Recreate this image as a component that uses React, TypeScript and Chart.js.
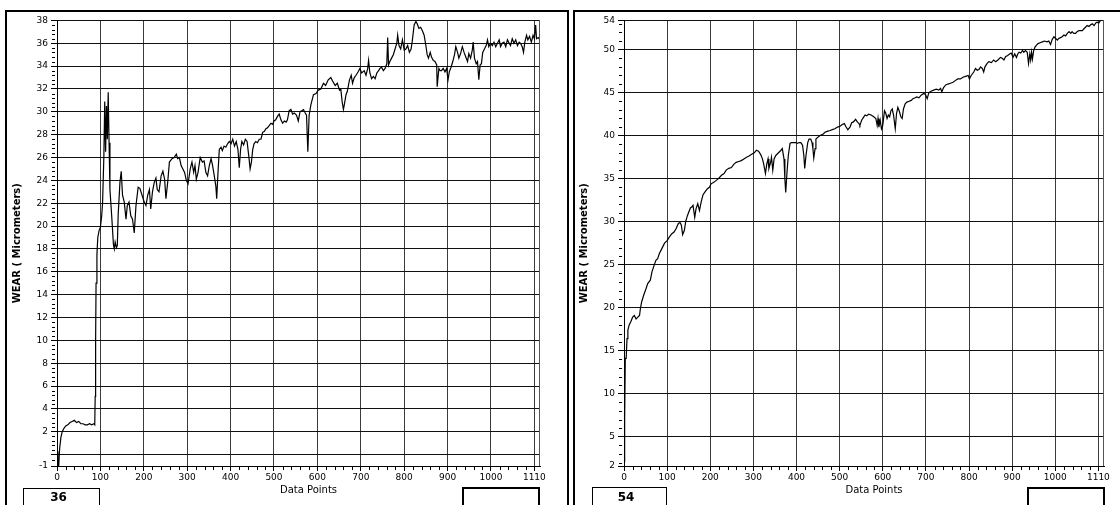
import React, { useEffect, useRef } from 'react';
import { Chart, registerables } from 'chart.js';

Chart.register(...registerables);

const FONT = "'DejaVu Sans', Verdana, sans-serif";

// ---------- Left chart (final value 36) ----------
const leftX = [
  0, 2, 4, 6, 9, 12, 16, 20, 25, 30,
  35, 40, 45, 50, 55, 60, 65, 70, 75, 80,
  85, 87, 88, 89, 90, 92, 94, 97, 100, 103,
  105, 108, 110, 112, 114, 116, 118, 120, 122, 126,
  130, 132, 134, 137, 139, 141, 145, 148, 151, 155,
  159, 162, 166, 170, 174, 178, 182, 187, 191, 196,
  201, 205, 209, 213, 216, 220, 224, 228, 231, 235,
  240, 244, 248, 251, 255, 259, 265, 270, 275, 278,
  282, 286, 290, 294, 298, 302, 307, 311, 315, 318,
  321, 325, 330, 335, 339, 343, 347, 351, 355, 358,
  362, 366, 368, 371, 374, 378, 381, 385, 389, 393,
  397, 401, 405, 409, 413, 417, 420, 423, 426, 430,
  434, 438, 442, 445, 448, 451, 454, 458, 462, 466,
  470, 474, 478, 481, 485, 489, 493, 497, 500, 504,
  508, 512, 516, 520, 524, 528, 531, 535, 539, 543,
  547, 552, 556, 560, 568, 572, 575, 578, 581, 585,
  591, 597, 602, 608, 614, 619, 625, 631, 635, 641,
  646, 651, 654, 657, 660, 662, 666, 669, 674, 678,
  681, 685, 689, 694, 698, 702, 708, 712, 716, 718,
  721, 725, 729, 733, 737, 741, 744, 748, 752, 756,
  760, 762, 764, 767, 771, 775, 779, 783, 785, 788,
  792, 796, 800, 804, 808, 812, 816, 819, 823, 827,
  830, 834, 838, 842, 846, 850, 853, 856, 860, 863,
  867, 871, 875, 876, 880, 883, 886, 890, 894, 898,
  901, 904, 908, 912, 916, 919, 923, 926, 930, 934,
  938, 942, 946, 949, 953, 957, 959, 962, 966, 969,
  972, 975, 978, 981, 985, 989, 992, 995, 999, 1003,
  1007, 1011, 1015, 1019, 1022, 1026, 1030, 1034, 1038, 1042,
  1045, 1049, 1053, 1057, 1061, 1065, 1068, 1072, 1075, 1078,
  1082, 1085, 1089, 1093, 1097, 1100, 1103, 1105, 1109, 1113,
];
const leftY = [
  0.3, -0.9, -1.0, 0.5, 1.5, 2.0, 2.3, 2.5, 2.6, 2.8,
  2.9, 3.0, 2.8, 2.9, 2.7, 2.7, 2.6, 2.6, 2.7, 2.6,
  2.7, 2.6, 5.1, 10.0, 15.0, 17.5, 19.0, 19.6, 19.9, 20.9,
  22.0, 26.1, 30.9, 26.5, 30.5, 27.6, 31.7, 27.3, 23.2, 20.9,
  18.4, 18.0, 18.6, 18.1, 18.3, 21.0, 23.8, 24.8, 22.7, 22.1,
  20.6, 21.8, 22.1, 20.9, 20.6, 19.4, 21.8, 23.4, 23.3, 22.7,
  22.1, 21.8, 22.7, 23.2, 21.5, 23.0, 23.8, 24.2, 23.2, 23.0,
  24.4, 24.8, 24.1, 22.4, 23.8, 25.6, 25.9, 26.0, 26.3, 25.9,
  26.0, 25.3, 25.0, 24.7, 24.0, 23.7, 25.0, 25.6, 24.7, 25.3,
  24.1, 24.7, 26.0, 25.6, 25.7, 24.7, 24.4, 25.3, 25.9, 25.4,
  24.5, 23.5, 22.4, 24.7, 26.7, 26.9, 26.6, 27.0, 26.9, 27.2,
  27.4, 27.2, 27.6, 27.0, 27.4, 26.7, 25.1, 26.7, 27.4, 27.1,
  27.6, 27.4, 26.1, 25.0, 25.6, 26.7, 27.2, 27.4, 27.3, 27.6,
  27.6, 28.2, 28.3, 28.5, 28.6, 28.8, 29.0, 28.9, 29.2, 29.3,
  29.6, 29.8, 29.3, 29.0, 29.2, 29.1, 29.3, 30.1, 30.2, 29.8,
  29.9, 29.7, 29.2, 30.0, 30.2, 29.9, 29.7, 26.5, 29.7, 30.6,
  31.5, 31.6, 31.9, 32.0, 32.5, 32.3, 32.8, 33.0, 32.7, 32.3,
  32.5, 31.9, 32.0, 30.9, 30.2, 30.6, 31.5, 31.8, 32.8, 33.2,
  32.5, 33.0, 33.2, 33.5, 33.8, 33.4, 33.6, 33.2, 33.8, 34.5,
  33.4, 32.9, 33.1, 32.9, 33.4, 33.6, 33.8, 33.9, 33.6, 33.8,
  34.2, 36.5, 34.1, 34.4, 34.7, 35.0, 35.5, 36.0, 36.7, 35.8,
  35.5, 36.3, 35.4, 35.5, 35.8, 35.2, 35.5, 36.3, 37.6, 37.9,
  37.7, 37.3, 37.4, 37.1, 36.7, 35.8, 35.0, 34.7, 35.2, 34.8,
  34.5, 34.4, 34.1, 32.2, 33.8, 33.6, 33.6, 33.8, 33.5, 33.8,
  32.8, 33.5, 33.9, 34.4, 35.0, 35.7, 35.2, 34.7, 35.1, 35.7,
  35.2, 34.8, 34.4, 35.1, 34.7, 35.4, 36.1, 34.7, 34.2, 34.4,
  32.8, 34.1, 34.2, 35.2, 35.5, 35.8, 36.3, 35.7, 36.0, 35.8,
  36.1, 35.7, 36.0, 36.3, 35.7, 36.0, 36.1, 35.7, 36.3, 36.0,
  35.8, 36.4, 36.0, 36.3, 35.8, 36.1, 36.0, 35.7, 35.2, 36.1,
  36.7, 36.3, 36.6, 36.1, 36.7, 36.4, 37.6, 36.4, 36.5, 36.3,
];

// ---------- Right chart (final value 54) ----------
const rightX = [
  0, 1, 2, 3, 5, 7, 9, 12, 16, 20,
  24, 28, 32, 36, 38, 41, 46, 51, 55, 61,
  65, 71, 74, 78, 82, 88, 94, 100, 105, 111,
  116, 121, 126, 130, 133, 136, 140, 143, 147, 150,
  154, 157, 160, 164, 167, 171, 175, 179, 183, 187,
  193, 198, 202, 209, 214, 219, 226, 232, 237, 243,
  249, 255, 260, 266, 272, 278, 284, 289, 295, 302,
  307, 312, 317, 321, 324, 328, 331, 334, 336, 340,
  342, 345, 348, 352, 356, 360, 364, 367, 371, 373,
  375, 378, 381, 385, 388, 394, 399, 402, 406, 410,
  414, 417, 419, 422, 426, 429, 433, 436, 438, 440,
  443, 445, 449, 454, 458, 462, 466, 471, 478, 483,
  489, 495, 501, 506, 511, 515, 519, 524, 528, 532,
  537, 541, 545, 547, 551, 555, 559, 563, 567, 573,
  579, 584, 587, 589, 591, 594, 597, 600, 604, 607,
  610, 613, 616, 619, 622, 625, 629, 632, 635, 638,
  642, 645, 648, 652, 656, 661, 666, 670, 675, 679,
  684, 689, 695, 699, 703, 707, 713, 718, 724, 730,
  734, 737, 741, 746, 751, 757, 763, 768, 774, 780,
  786, 792, 798, 801, 805, 811, 815, 819, 823, 827,
  831, 834, 837, 842, 846, 852, 857, 862, 867, 873,
  877, 881, 885, 889, 894, 898, 902, 906, 910, 913,
  916, 920, 924, 927, 931, 935, 938, 941, 943, 945,
  947, 950, 953, 956, 960, 965, 970, 975, 981, 985,
  989, 993, 997, 1001, 1005, 1008, 1012, 1016, 1020, 1024,
  1028, 1032, 1036, 1039, 1043, 1047, 1051, 1055, 1059, 1063,
  1066, 1070, 1074, 1078, 1082, 1086, 1090, 1094, 1097, 1101,
  1105, 1109, 1113,
];
const rightY = [
  2.1, 4.5, 7.0, 14.1, 14.1, 16.4, 17.4, 18.0, 18.4, 18.9,
  19.1, 18.7, 18.9, 19.1, 19.9, 20.7, 21.5, 22.2, 22.8, 23.2,
  24.2, 25.1, 25.5, 25.7, 26.3, 26.9, 27.5, 27.8, 28.2, 28.6,
  28.8, 29.2, 29.8, 29.9, 29.6, 28.5, 29.0, 30.0, 30.7, 31.1,
  31.6, 31.7, 31.9, 30.5, 31.5, 32.1, 31.3, 32.3, 33.1, 33.4,
  33.8, 34.0, 34.4, 34.6, 34.8, 35.0, 35.4, 35.6, 36.0, 36.2,
  36.3, 36.7, 36.9, 37.0, 37.1, 37.3, 37.5, 37.6, 37.8, 38.0,
  38.3, 38.2, 37.8, 37.3, 36.7, 35.6, 36.7, 37.3, 36.2, 36.9,
  37.5, 36.0, 37.3, 37.7, 37.9, 38.1, 38.3, 38.5, 37.3, 35.0,
  33.4, 35.8, 37.7, 39.1, 39.2, 39.2, 39.2, 39.1, 39.2, 39.2,
  38.9, 37.7, 36.2, 37.7, 39.2, 39.6, 39.6, 39.2, 38.5, 37.4,
  38.5, 39.6, 39.8, 40.0, 40.1, 40.2, 40.4, 40.5, 40.6, 40.7,
  40.8, 41.0, 41.1, 41.3, 41.4, 41.0, 40.7, 41.0, 41.5, 41.6,
  41.9, 41.6, 41.4, 41.2, 41.8, 42.1, 42.4, 42.3, 42.5, 42.4,
  42.2, 42.0, 41.2, 42.0, 41.0, 41.8, 40.8, 41.2, 42.9, 42.6,
  42.0, 42.4, 42.2, 42.9, 43.1, 42.4, 40.8, 42.6, 43.3, 42.9,
  42.2, 42.0, 43.1, 43.7, 43.9, 44.0, 44.1, 44.3, 44.4, 44.5,
  44.4, 44.7, 44.9, 44.8, 44.3, 45.0, 45.2, 45.3, 45.4, 45.3,
  45.5, 45.1, 45.6, 45.9, 46.0, 46.1, 46.2, 46.4, 46.6, 46.6,
  46.8, 46.9, 47.0, 46.6, 47.0, 47.4, 47.8, 47.6, 47.7, 48.0,
  47.8, 47.4, 48.0, 48.4, 48.6, 48.5, 48.8, 48.6, 48.8, 49.1,
  49.0, 48.8, 49.2, 49.3, 49.5, 49.6, 49.1, 49.5, 49.1, 49.5,
  49.7, 49.6, 49.9, 49.7, 49.9, 49.7, 48.4, 49.5, 48.8, 49.7,
  48.9, 49.9, 50.3, 50.5, 50.7, 50.8, 50.9, 51.0, 50.9, 51.0,
  50.6, 51.2, 51.5, 51.3, 51.1, 51.3, 51.4, 51.5, 51.7, 51.6,
  51.9, 52.1, 51.9, 52.1, 51.9, 51.9, 52.1, 52.2, 52.2, 52.2,
  52.4, 52.6, 52.8, 52.7, 52.9, 53.0, 52.8, 53.1, 53.2, 53.1,
  53.4, 53.4, 53.4,
];

// ---------- Axes ----------
const xMin = 0;
const xMax = 1113;
const xTickValues = [0, 100, 200, 300, 400, 500, 600, 700, 800, 900, 1000, 1100];
const xTickLabels = ['0', '100', '200', '300', '400', '500', '600', '700', '800', '900', '1000', '1110'];

const leftYMin = -1;
const leftYMax = 38;
const leftYTickValues = [-1, 0, 2, 4, 6, 8, 10, 12, 14, 16, 18, 20, 22, 24, 26, 28, 30, 32, 34, 36, 38];
const leftYTickLabels = ['-1', '', '2', '4', '6', '8', '10', '12', '14', '16', '18', '20', '22', '24', '26', '28', '30', '32', '34', '36', '38'];

const rightYMin = 1.6;
const rightYMax = 53.4;
const rightYTickValues = [1.6, 5, 10, 15, 20, 25, 30, 35, 40, 45, 50, 53.4];
const rightYTickLabels = ['2', '5', '10', '15', '20', '25', '30', '35', '40', '45', '50', '54'];

const yTitle = 'WEAR ( Micrometers)';
const xTitle = 'Data Points';
const leftValue = '36';
const rightValue = '54';

function minorValues(from: number, to: number, step: number, majorStep: number): number[] {
  const out: number[] = [];
  const n = Math.round((to - from) / step);
  for (let i = 0; i <= n; i++) {
    const v = +(from + i * step).toFixed(4);
    const r = Math.abs(v / majorStep - Math.round(v / majorStep));
    if (r > 1e-6) out.push(v);
  }
  return out;
}

const decorPlugin = {
  id: 'decor',
  afterDraw(chart: any, _args: any, opts: any) {
    const { ctx, chartArea, scales } = chart;
    const xs = scales.x;
    const ys = scales.y;
    ctx.save();
    // plot frame (right edge)
    ctx.strokeStyle = '#555';
    ctx.lineWidth = 1;
    const r = Math.round(chartArea.right) - 0.5;
    ctx.beginPath();
    ctx.moveTo(r, Math.round(chartArea.top));
    ctx.lineTo(r, Math.round(chartArea.bottom));
    ctx.stroke();
    // minor ticks
    ctx.strokeStyle = '#000';
    ctx.beginPath();
    for (const v of opts.yMinor as number[]) {
      const py = Math.round(ys.getPixelForValue(v)) + 0.5;
      ctx.moveTo(Math.round(chartArea.left) - 5, py);
      ctx.lineTo(Math.round(chartArea.left) - 2, py);
    }
    for (const v of opts.xMinor as number[]) {
      const px = Math.round(xs.getPixelForValue(v)) + 0.5;
      ctx.moveTo(px, Math.round(chartArea.bottom) + 1);
      ctx.lineTo(px, Math.round(chartArea.bottom) + 4);
    }
    ctx.stroke();
    // y title
    ctx.fillStyle = '#000';
    ctx.save();
    ctx.translate(opts.yTitleX, (chartArea.top + chartArea.bottom) / 2);
    ctx.rotate(-Math.PI / 2);
    ctx.font = `bold 10px ${FONT}`;
    ctx.textAlign = 'center';
    ctx.textBaseline = 'middle';
    ctx.fillText(yTitle, 0, 0);
    ctx.restore();
    // x title
    ctx.font = `10px ${FONT}`;
    ctx.textAlign = 'center';
    ctx.textBaseline = 'middle';
    ctx.fillText(xTitle, (chartArea.left + chartArea.right) / 2 + 10, opts.xTitleY);
    ctx.restore();
  },
};

function makeConfig(
  xsData: number[], ysData: number[], yMin: number, yMax: number,
  yTicks: number[], yLabels: string[], yMinor: number[],
  yAxisWidth: number, rightPad: number, yTitleX: number,
): any {
  const n = Math.min(xsData.length, ysData.length);
  const pts = [] as { x: number; y: number }[];
  for (let i = 0; i < n; i++) pts.push({ x: xsData[i], y: ysData[i] });
  return {
    type: 'line',
    data: {
      datasets: [{
        data: pts,
        borderColor: '#000',
        borderWidth: 1.2,
        pointRadius: 0,
        fill: false,
        tension: 0,
      }],
    },
    options: {
      responsive: false,
      animation: false,
      layout: { padding: { left: 0, right: rightPad, top: 8, bottom: 0 } },
      plugins: {
        legend: { display: false },
        tooltip: { enabled: false },
        decor: {
          yMinor,
          xMinor: minorValues(0, 1100, 20, 100),
          yTitleX,
          xTitleY: 478,
        },
      },
      scales: {
        x: {
          type: 'linear',
          min: xMin,
          max: xMax,
          afterBuildTicks: (s: any) => { s.ticks = xTickValues.map((v) => ({ value: v })); },
          afterFit: (s: any) => { s.height = 39; },
          ticks: {
            autoSkip: false,
            maxRotation: 0,
            padding: 1,
            color: '#000',
            font: { family: FONT, size: 9 },
            callback: (_v: any, i: number) => xTickLabels[i],
          },
          grid: { color: '#3c3c3c', lineWidth: 1, tickColor: '#000', tickLength: 5 },
          border: { color: '#000', width: 1 },
        },
        y: {
          type: 'linear',
          min: yMin,
          max: yMax,
          afterBuildTicks: (s: any) => { s.ticks = yTicks.map((v) => ({ value: v })); },
          afterFit: (s: any) => { s.width = yAxisWidth; },
          ticks: {
            autoSkip: false,
            padding: 3,
            color: '#000',
            font: { family: FONT, size: 9 },
            callback: (_v: any, i: number) => yLabels[i],
          },
          grid: { color: '#111', lineWidth: 1, tickColor: '#000', tickLength: 6 },
          border: { color: '#000', width: 1 },
        },
      },
    },
    plugins: [decorPlugin],
  };
}

const boxText: React.CSSProperties = {
  position: 'absolute',
  font: `bold 12px ${FONT}`,
  color: '#000',
  textAlign: 'center',
  lineHeight: '13px',
};

export default function App() {
  const leftRef = useRef<HTMLCanvasElement>(null);
  const rightRef = useRef<HTMLCanvasElement>(null);

  useEffect(() => {
    const leftMinor = [-0.5, ...minorValues(0, 38, 0.4, 2)];
    const rightMinor = minorValues(2, 53, 1, 5);
    const c1 = new Chart(leftRef.current as HTMLCanvasElement,
      makeConfig(leftX, leftY, leftYMin, leftYMax, leftYTickValues, leftYTickLabels, leftMinor, 49, 24, 9));
    const c2 = new Chart(rightRef.current as HTMLCanvasElement,
      makeConfig(rightX, rightY, rightYMin, rightYMax, rightYTickValues, rightYTickLabels, rightMinor, 48, 16, 8));
    return () => { c1.destroy(); c2.destroy(); };
  }, []);

  return (
    <div style={{ position: 'fixed', left: 0, top: 0, width: 1120, height: 505, background: '#fff', overflow: 'hidden' }}>
      <div style={{ position: 'absolute', left: 5, top: 10, width: 564, height: 530, border: '2px solid #000', boxSizing: 'border-box' }} />
      <div style={{ position: 'absolute', left: 573, top: 10, width: 560, height: 530, border: '2px solid #000', boxSizing: 'border-box' }} />
      <canvas ref={leftRef} width={556} height={493} style={{ position: 'absolute', left: 8, top: 12, width: 556, height: 493 }} />
      <canvas ref={rightRef} width={544} height={493} style={{ position: 'absolute', left: 576, top: 12, width: 544, height: 493 }} />

      <div style={{ position: 'absolute', left: 23, top: 488, width: 77, height: 30, border: '1px solid #000', boxSizing: 'border-box' }} />
      <div style={{ ...boxText, left: 23, width: 71, top: 491 }}>{leftValue}</div>
      <div style={{ position: 'absolute', left: 462, top: 487, width: 78, height: 30, border: '2px solid #000', boxSizing: 'border-box' }} />

      <div style={{ position: 'absolute', left: 592, top: 487, width: 75, height: 30, border: '1px solid #000', boxSizing: 'border-box' }} />
      <div style={{ ...boxText, left: 592, width: 68, top: 491 }}>{rightValue}</div>
      <div style={{ position: 'absolute', left: 1027, top: 487, width: 78, height: 30, border: '2px solid #000', boxSizing: 'border-box' }} />
    </div>
  );
}
